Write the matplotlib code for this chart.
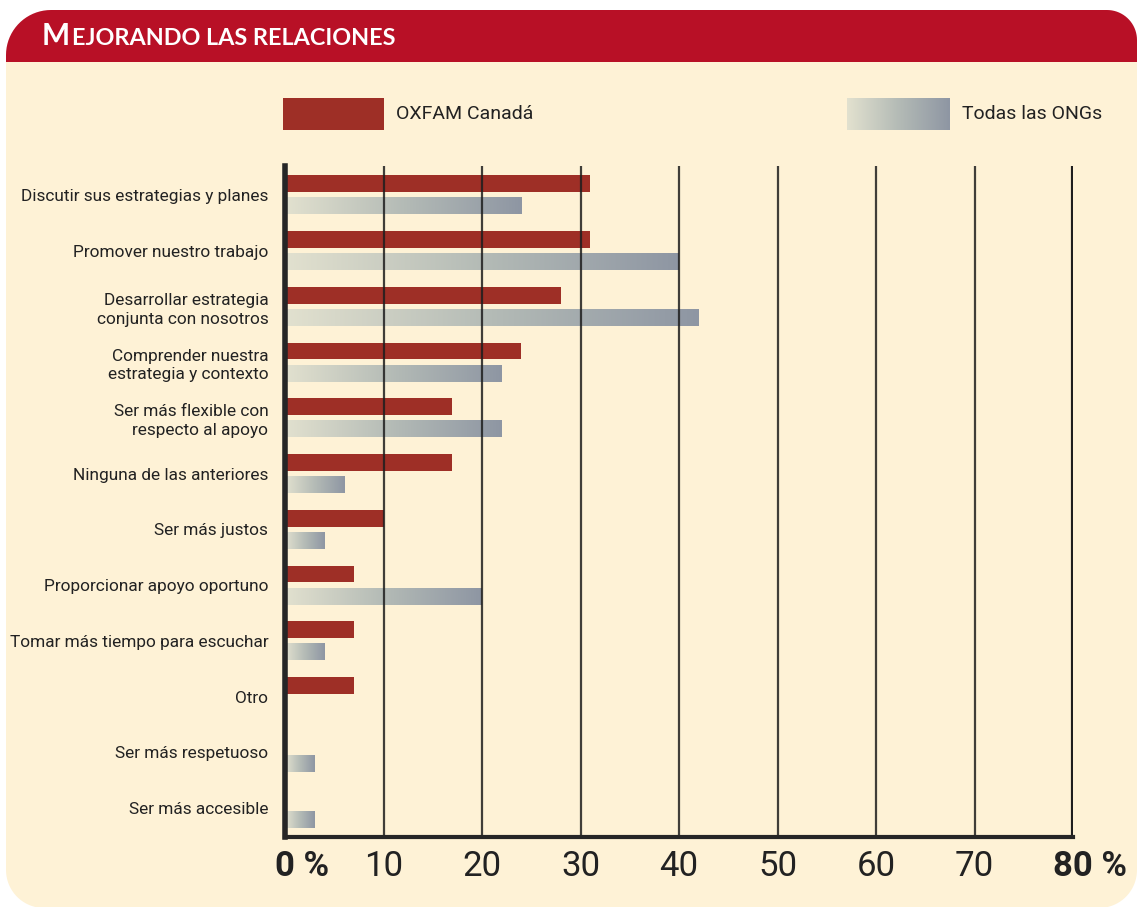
import numpy as np
import matplotlib
matplotlib.use("Agg")
import matplotlib.pyplot as plt
import matplotlib.transforms as mtransforms
from matplotlib.patches import Polygon, Rectangle
from matplotlib.colors import LinearSegmentedColormap
from matplotlib.offsetbox import TextArea, HPacker, AnchoredOffsetbox

categories = [
    "Discutir sus estrategias y planes",
    "Promover nuestro trabajo",
    "Desarrollar estrategia\nconjunta con nosotros",
    "Comprender nuestra\nestrategia y contexto",
    "Ser más flexible con\nrespecto al apoyo",
    "Ninguna de las anteriores",
    "Ser más justos",
    "Proporcionar apoyo oportuno",
    "Tomar más tiempo para escuchar",
    "Otro",
    "Ser más respetuoso",
    "Ser más accesible",
]
oxfam = [31, 31, 28, 24, 17, 17, 10, 7, 7, 7, 0, 0]
todas = [24, 40, 42, 22, 22, 6, 4, 20, 4, 0, 3, 3]
xticks = [0, 10, 20, 30, 40, 50, 60, 70, 80]
xticklabels = ["0 %", "10", "20", "30", "40", "50", "60", "70", "80 %"]

RED = "#9e2f26"
HEAD = "#b81026"
CREAM = "#fef2d6"
grad = LinearSegmentedColormap.from_list("g", ["#e2e1cf", "#b4bbb6", "#8e96a3"])
plt.rcParams["font.family"] = ["Roboto", "DejaVu Sans"]

W, H = 1137, 907
fig = plt.figure(figsize=(W / 100, H / 100), dpi=100, facecolor="white")
ident = mtransforms.IdentityTransform()


def rounded(x0, y0, x1, y1, r):
    # r = radii for corners (bl, br, tr, tl), display pixels
    pts = []
    corners = [((x0 + r[0], y0 + r[0]), r[0], 180, 270),
               ((x1 - r[1], y0 + r[1]), r[1], 270, 360),
               ((x1 - r[2], y1 - r[2]), r[2], 0, 90),
               ((x0 + r[3], y1 - r[3]), r[3], 90, 180)]
    for (cx, cy), rr, a0, a1 in corners:
        t = np.radians(np.linspace(a0, a1, 20))
        pts += list(zip(cx + rr * np.cos(t), cy + rr * np.sin(t)))
    return pts


# cream panel and red header (pixel coords, y up)
fig.add_artist(Polygon(rounded(6, -1, 1137, 600, (38, 38, 0, 0)), closed=True,
                       transform=ident, facecolor=CREAM, edgecolor="none", zorder=0))
fig.add_artist(Rectangle((6, 500), 1131, H - 62 - 500, transform=ident,
                         facecolor=CREAM, edgecolor="none", zorder=0))
fig.add_artist(Polygon(rounded(6, H - 62, 1137, H - 10, (0, 0, 30, 45)), closed=True,
                       transform=ident, facecolor=HEAD, edgecolor="none", zorder=1))

# title in small caps
t1 = TextArea("M", textprops=dict(color="white", fontsize=21.5, fontweight="bold", family="Lato"))
t2 = TextArea("EJORANDO LAS RELACIONES",
              textprops=dict(color="white", fontsize=16.8, fontweight="bold", family="Lato"))
pack = HPacker(children=[t1, t2], align="baseline", pad=0, sep=1)
fig.add_artist(AnchoredOffsetbox(loc="lower left", child=pack, pad=0, borderpad=0, frameon=False,
                                 bbox_to_anchor=(42 / W, 1 - 50 / H),
                                 bbox_transform=fig.transFigure))

# legend
fig.add_artist(Rectangle((283 / W, 1 - 130 / H), 101 / W, 32 / H, transform=fig.transFigure,
                         facecolor=RED, edgecolor="none"))
lax = fig.add_axes([847 / W, 1 - 130 / H, 103 / W, 32 / H])
lax.imshow(np.linspace(0, 1, 256)[None, :], cmap=grad, aspect="auto", extent=(0, 1, 0, 1))
lax.axis("off")
fig.text(396 / W, 1 - 114 / H, "OXFAM Canadá", fontsize=14, color="#222222", va="center")
fig.text(962 / W, 1 - 114 / H, "Todas las ONGs", fontsize=14, color="#222222", va="center")

ax = fig.add_axes([285 / W, 1 - 837 / H, 788 / W, 671 / H])
ax.set_facecolor("none")
y = np.arange(len(categories))
ax.barh(y - 0.2, oxfam, height=0.3, color=RED, zorder=2)
gbars = ax.barh(y + 0.2, todas, height=0.3, color="none", zorder=2)
for p in gbars.patches:
    if p.get_width() <= 0:
        continue
    x0, y0 = p.get_x(), p.get_y()
    ax.imshow(np.linspace(0, 1, 256)[None, :], cmap=grad, aspect="auto", zorder=2,
              extent=(x0, x0 + p.get_width(), y0 + p.get_height(), y0))

ax.set_xlim(0, 80)
ax.set_ylim(len(categories) - 0.48, -0.52)
ax.set_aspect("auto")
for v in xticks[1:-1]:
    ax.axvline(v, color="#1e1e1e", lw=1.6, alpha=0.85, zorder=3)
ax.axvline(80, color="#1e1e1e", lw=3, zorder=3)

for s in ["top", "right"]:
    ax.spines[s].set_visible(False)
ax.spines["left"].set_linewidth(4)
ax.spines["left"].set_color("#262626")
ax.spines["bottom"].set_linewidth(3)
ax.spines["bottom"].set_color("#262626")
ax.spines["left"].set_zorder(4)
ax.spines["bottom"].set_zorder(4)

ax.set_yticks(y)
ax.set_yticklabels(categories, fontsize=12.4, color="#222222", linespacing=1.3)
ax.tick_params(axis="y", length=0, pad=12)
ax.set_xticks(xticks)
ax.set_xticklabels(xticklabels, fontsize=25, color="#222222")
ax.tick_params(axis="x", length=0, pad=9)
labs = ax.get_xticklabels()
off = mtransforms.ScaledTranslation(17 / 100, 0, fig.dpi_scale_trans)
for lab in (labs[0], labs[-1]):
    lab.set_fontweight("bold")
    lab.set_transform(lab.get_transform() + off)

fig.savefig("out.png", dpi=100, facecolor="white")
